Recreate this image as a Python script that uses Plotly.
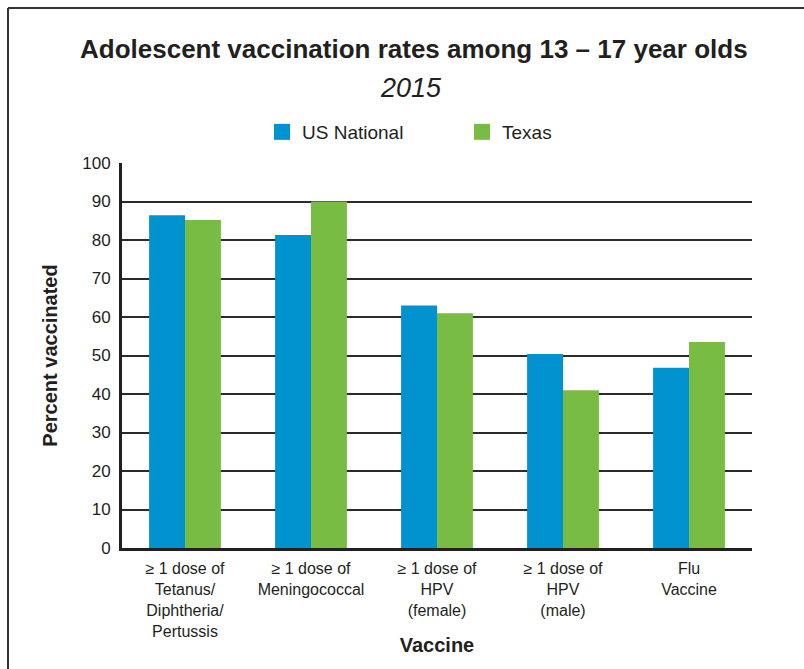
import plotly.graph_objects as go

# Vaccine categories (multi-line tick labels) and rates in percent
categories = [
    "≥ 1 dose of<br>Tetanus/<br>Diphtheria/<br>Pertussis",
    "≥ 1 dose of<br>Meningococcal",
    "≥ 1 dose of<br>HPV<br>(female)",
    "≥ 1 dose of<br>HPV<br>(male)",
    "Flu<br>Vaccine",
]
us_national = [86.4, 81.3, 63.0, 50.4, 46.8]
texas = [85.2, 90.0, 61.0, 41.0, 53.5]
y_ticks = [0, 10, 20, 30, 40, 50, 60, 70, 80, 90, 100]

BLUE = "#0093CF"
GREEN = "#78BC43"
INK = "#231F20"
FONT = "Liberation Sans, Arial, sans-serif"

W, H = 804, 669
L, R, T, B = 122, 52, 163, 121
plot_w = W - L - R
plot_h = H - T - B


def px_x(x):
    return (x - L) / plot_w


def px_y(y):
    return (H - B - y) / plot_h


fig = go.Figure()
fig.add_trace(go.Bar(x=categories, y=us_national, name="US National",
                     marker=dict(color=BLUE, line=dict(width=0)), showlegend=False))
fig.add_trace(go.Bar(x=categories, y=texas, name="Texas",
                     marker=dict(color=GREEN, line=dict(width=0)), showlegend=False))

# Legend entries with larger square swatches
for name, color in [("US National", BLUE), ("Texas", GREEN)]:
    fig.add_trace(go.Scatter(x=[None], y=[None], mode="markers", name=name,
                             marker=dict(symbol="square", size=17, color=color)))

fig.update_layout(
    width=W, height=H,
    margin=dict(l=L, r=R, t=T, b=B, pad=0, autoexpand=False),
    paper_bgcolor="white", plot_bgcolor="white",
    font=dict(family=FONT, color=INK, size=15),
    barmode="group", bargap=0.43, bargroupgap=0,
    showlegend=True,
    legend=dict(orientation="h", x=px_x(262), y=px_y(132), xanchor="left", yanchor="middle",
                font=dict(size=19, color=INK), itemwidth=30,
                entrywidth=155, entrywidthmode="pixels", bgcolor="rgba(0,0,0,0)"),
    xaxis=dict(showgrid=False, showline=True, linecolor=INK, linewidth=3, automargin=False,
               ticks="", tickfont=dict(size=16, color=INK), ticklabelstandoff=4,
               title=dict(text="<b>Vaccine</b>", font=dict(size=20, color=INK), standoff=0),
               range=[-0.5, 4.5], fixedrange=True),
    yaxis=dict(range=[0, 100], tickvals=y_ticks, showgrid=True, gridcolor="#2B2B2B",
               gridwidth=2, showline=True, linecolor=INK, linewidth=3, zeroline=False,
               automargin=False,
               ticks="", tickfont=dict(size=17, color=INK), ticklabelstandoff=5,
               title=dict(text="<b>Percent vaccinated</b>", font=dict(size=20, color=INK), standoff=20),
               fixedrange=True),
)

# Title and subtitle
fig.add_annotation(text="<b>Adolescent vaccination rates among 13 – 17 year olds</b>",
                   xref="paper", yref="paper", x=px_x(414), y=px_y(49),
                   xanchor="center", yanchor="middle", showarrow=False,
                   font=dict(size=26, color=INK, family=FONT))
fig.add_annotation(text="<i>2015</i>",
                   xref="paper", yref="paper", x=px_x(411), y=px_y(88),
                   xanchor="center", yanchor="middle", showarrow=False,
                   font=dict(size=27, color=INK, family=FONT))

# Frame along the top and left edges
fig.add_shape(type="line", xref="paper", yref="paper",
              x0=px_x(8), y0=px_y(8), x1=px_x(W + 5), y1=px_y(8),
              line=dict(color="#333333", width=2))
fig.add_shape(type="line", xref="paper", yref="paper",
              x0=px_x(8), y0=px_y(8), x1=px_x(8), y1=px_y(H + 5),
              line=dict(color="#333333", width=2))

fig.write_html("out.html")
